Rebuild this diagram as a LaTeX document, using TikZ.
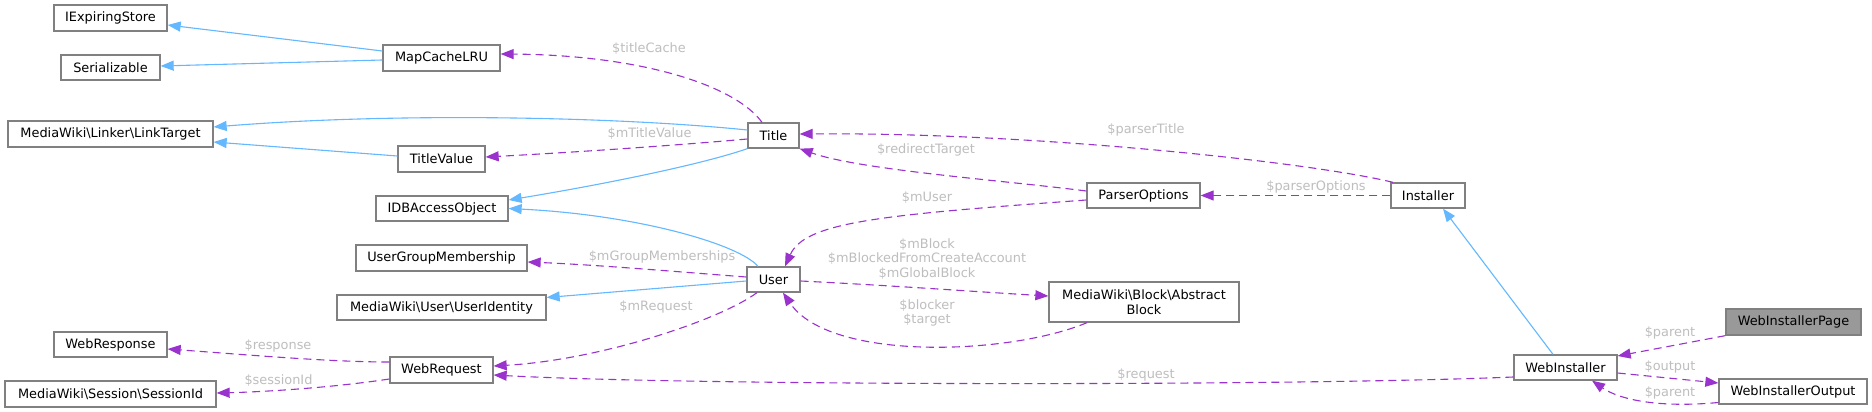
\documentclass[tikz,border=0pt]{standalone}
\usepackage{fontspec}
\setmainfont{DejaVu Sans}
\usetikzlibrary{arrows.meta}
\definecolor{inhblue}{HTML}{63B8FF}
\definecolor{usepurple}{HTML}{9A32CD}
\definecolor{labgray}{HTML}{BEBEBE}
\definecolor{boxgray}{HTML}{808080}
\definecolor{hlfill}{HTML}{999999}
\begin{document}
\begin{tikzpicture}[x=1pt,y=-1pt,
  cls/.style={draw=boxgray, line width=1.3pt, fill=white, inner sep=0pt, align=center,
    font=\fontsize{12.9}{15}\selectfont, text=black},
  inh/.style={draw=inhblue, line width=1.1pt, -{Triangle[length=13pt,width=10pt]}},
  usage/.style={draw=usepurple, line width=1.1pt, dash pattern=on 8pt off 5pt,
    -{Triangle[length=13pt,width=10pt]}},
  lab/.style={text=labgray, inner sep=0pt, align=center, font=\fontsize{12.9}{14.5}\selectfont},
]
\useasboundingbox[fill=white] (0,0) rectangle (1872,412);

% nodes
\node[cls, minimum width=113pt, minimum height=26pt] (iexp) at (110.5,18) {IExpiringStore};
\node[cls, minimum width=99pt, minimum height=25pt] (ser) at (110.5,67.5) {Serializable};
\node[cls, minimum width=205pt, minimum height=26pt] (lt) at (110.5,134) {MediaWiki\textbackslash Linker\textbackslash LinkTarget};
\node[cls, minimum width=117pt, minimum height=26pt] (mcl) at (441.5,58) {MapCacheLRU};
\node[cls, minimum width=87pt, minimum height=26pt] (tv) at (441.5,159) {TitleValue};
\node[cls, minimum width=132pt, minimum height=25pt] (idb) at (442,208.5) {IDBAccessObject};
\node[cls, minimum width=171pt, minimum height=26pt] (ugm) at (441.5,258) {UserGroupMembership};
\node[cls, minimum width=209pt, minimum height=25pt] (uid) at (441.5,307.5) {MediaWiki\textbackslash User\textbackslash UserIdentity};
\node[cls, minimum width=113pt, minimum height=25pt] (wresp) at (110.5,344.5) {WebResponse};
\node[cls, minimum width=103pt, minimum height=26pt] (wreq) at (441.5,370) {WebRequest};
\node[cls, minimum width=211pt, minimum height=26pt] (sid) at (110.5,394) {MediaWiki\textbackslash Session\textbackslash SessionId};
\node[cls, minimum width=51pt, minimum height=25pt] (title) at (773.5,135.5) {Title};
\node[cls, minimum width=53pt, minimum height=25pt] (user) at (773.5,279.5) {User};
\node[cls, minimum width=113pt, minimum height=25pt] (po) at (1143.5,195.5) {ParserOptions};
\node[cls, minimum width=190pt, minimum height=40pt] (ab) at (1144,302) {MediaWiki\textbackslash Block\textbackslash Abstract\\Block};
\node[cls, minimum width=74pt, minimum height=25pt] (inst) at (1428,195.5) {Installer};
\node[cls, minimum width=103pt, minimum height=25pt] (wi) at (1565.5,367.5) {WebInstaller};
\node[cls, fill=hlfill, minimum width=135pt, minimum height=26pt] (wip) at (1793.5,322) {WebInstallerPage};
\node[cls, minimum width=148pt, minimum height=25pt] (wio) at (1793,391.5) {WebInstallerOutput};

% inheritance edges
\draw[inh] ([yshift=7pt]mcl.west) -- ([yshift=-7pt]iexp.east);
\draw[inh] ([yshift=-2pt]mcl.west) -- ([yshift=1.5pt]ser.east);
\draw[inh] ([yshift=5.5pt]title.west) .. controls (620,117) and (400,112) .. ([yshift=7pt]lt.east);
\draw[inh] ([yshift=3pt]tv.west) -- ([yshift=-8pt]lt.east);
\draw[inh] (title.south west) .. controls (700,165) and (600,185) .. ([yshift=8.5pt]idb.east);
\draw[inh] ([xshift=-15.5pt]user.north) .. controls (740,245) and (640,215) .. (idb.east);
\draw[inh] ([yshift=-1.5pt]user.west) -- ([yshift=10pt]uid.east);
\draw[inh] ([xshift=-12.5pt]wi.north) -- ([xshift=15pt]inst.south);

% usage edges
\draw[usage] ([xshift=-11.5pt]title.north) .. controls (735,85) and (640,55) .. ([yshift=4pt]mcl.east);
\node[lab] (l1) at (649,49) {\$titleCache};
\draw[usage] ([yshift=-3.5pt]title.west) .. controls (680,145) and (580,152) .. ([yshift=2pt]tv.east);
\node[lab] (l2) at (649.5,134) {\$mTitleValue};
\draw[usage] ([yshift=4.5pt]po.west) .. controls (1000,180) and (860,170) .. (title.south east);
\node[lab] (l3) at (926,150) {\$redirectTarget};
\draw[usage] ([xshift=-35pt]inst.north) .. controls (1310,162) and (1030,132) .. ([yshift=1.5pt]title.east);
\node[lab] (l4) at (1146,130) {\$parserTitle};
\draw[usage] (inst.west) -- (po.east);
\node[lab] (l5) at (1316,187) {\$parserOptions};
\draw[usage] ([yshift=-4.5pt]po.west) .. controls (880,215) and (805,222) .. ([xshift=11.5pt]user.north);
\node[lab] (l6) at (927,198) {\$mUser};
\draw[usage] ([yshift=-1.5pt]user.east) .. controls (900,286) and (980,292) .. ([yshift=6pt]ab.west);
\node[lab] (l7) at (927,259) {\$mBlock\\\$mBlockedFromCreateAccount\\\$mGlobalBlock};
\draw[usage] ([xshift=-57pt]ab.south) .. controls (1010,355) and (830,362) .. ([xshift=9.5pt]user.south);
\node[lab] (l8) at (927,313) {\$blocker\\\$target};
\draw[usage] ([yshift=2.5pt]user.west) .. controls (680,272) and (600,265) .. ([yshift=-4pt]ugm.east);
\node[lab] (l9) at (662,257) {\$mGroupMemberships};
\draw[usage] ([xshift=-16.5pt]user.south) .. controls (720,320) and (600,360) .. ([yshift=4pt]wreq.east);
\node[lab] (l10) at (656,307) {\$mRequest};
\draw[usage] ([yshift=-9.5pt]wi.west) .. controls (1300,386) and (700,386) .. ([yshift=-5pt]wreq.east);
\node[lab] (l11) at (1146,375) {\$request};
\draw[usage] ([yshift=8pt]wreq.west) .. controls (330,362) and (250,355) .. ([yshift=-4.5pt]wresp.east);
\node[lab] (l12) at (278,346) {\$response};
\draw[usage] ([yshift=-9pt]wreq.west) .. controls (330,388) and (260,392) .. ([yshift=1pt]sid.east);
\node[lab] (l13) at (278.5,381) {\$sessionId};
\draw[usage] (wip.south west) -- ([yshift=11.5pt]wi.east);
\node[lab] (l14) at (1670,333) {\$parent};
\draw[usage] ([yshift=-5.5pt]wi.east) -- ([yshift=8.5pt]wio.west);
\node[lab] (l15) at (1670,367) {\$output};
\draw[usage] ([yshift=-11pt]wio.west) .. controls (1660,408) and (1620,400) .. ([xshift=26.5pt]wi.south);
\node[lab] (l16) at (1670,393) {\$parent};
\end{tikzpicture}
\end{document}
